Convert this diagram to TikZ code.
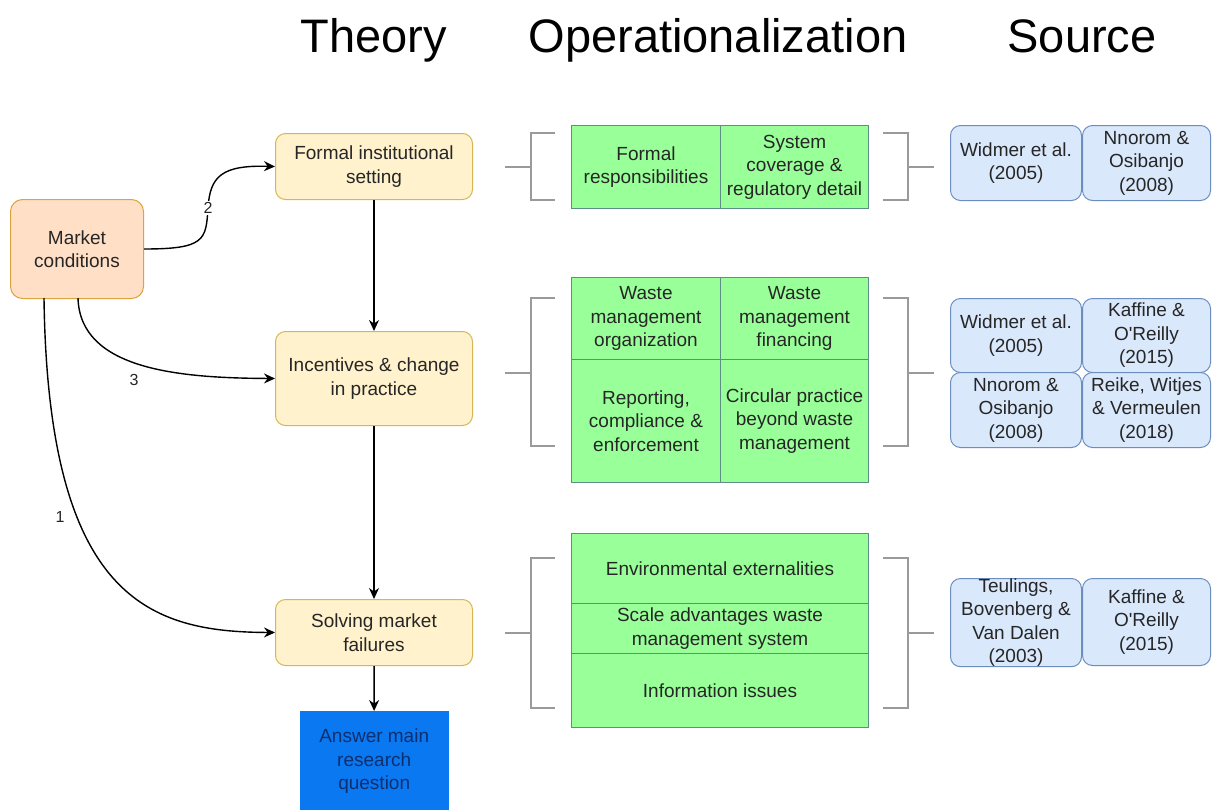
\documentclass[tikz,border=0pt]{standalone}
\usepackage{fontspec}
\setmainfont{Liberation Sans}
\usetikzlibrary{arrows.meta}
\definecolor{peachfill}{HTML}{FFDFC6}
\definecolor{peachline}{HTML}{D9A441}
\definecolor{sandfill}{HTML}{FFF2CC}
\definecolor{sandline}{HTML}{D6B656}
\definecolor{gfill}{HTML}{99FF99}
\definecolor{gline}{HTML}{5E8F86}
\definecolor{bfill}{HTML}{DAE8FC}
\definecolor{bline}{HTML}{6C8EBF}
\definecolor{qfill}{HTML}{0A78F0}
\definecolor{qtext}{HTML}{0D2F70}
\definecolor{brk}{HTML}{9A9A9A}
\definecolor{txt}{HTML}{262626}
\newcommand\boxfont{\fontsize{19}{23.5}\selectfont}
\newcommand\headfont{\fontsize{47}{52}\selectfont}
\newcommand\numfont{\fontsize{16}{18}\selectfont}
\begin{document}
\begin{tikzpicture}[x=1pt,y=-1pt,
  every node/.style={inner sep=0pt, align=center, anchor=north west, text=txt, font=\boxfont},
  theory/.style={draw=sandline, fill=sandfill, rounded corners=10pt, line width=1pt},
  market/.style={draw=peachline, fill=peachfill, rounded corners=12pt, line width=1pt},
  cell/.style={draw=gline, fill=gfill, line width=1pt, text=black!85},
  cite/.style={draw=bline, fill=bfill, rounded corners=10pt, line width=1pt},
  flow/.style={line width=1.4pt, -{Stealth[length=11pt,width=10pt]}},
  bracket/.style={draw=brk, line width=2.5pt},
  numlab/.style={font=\numfont, anchor=center, text=txt},
  heading/.style={anchor=base, font=\headfont, text=black}]
\useasboundingbox[fill=white] (0,0) rectangle (1213,809);

% column headings
\node[heading] (hT) at (374,52) {Theory};
\node[heading] (hO) at (718,52) {Operationalization};
\node[heading] (hS) at (1082,52) {Source};

% theory chain
\node[market, minimum width=133pt, minimum height=99pt] (m) at (10,199) {Market\\conditions};
\node[theory, minimum width=197pt, minimum height=66pt] (f) at (275,133) {Formal institutional\\setting};
\node[theory, minimum width=197pt, minimum height=94pt] (i) at (275,331) {Incentives \& change\\in practice};
\node[theory, minimum width=197pt, minimum height=66pt] (s) at (275,599) {Solving market\\failures};
\node[draw=qfill, fill=qfill, text=qtext, minimum width=148pt, minimum height=100pt] (q) at (300,711) {Answer main\\research\\question};

\draw[flow] (f) -- (i);
\draw[flow] (i) -- (s);
\draw[flow] (s) -- (q);

\coordinate (m2) at (78,298);
\coordinate (m1) at (44,298);
\draw[flow] (m.east) .. controls (205,249) and (206,240) .. (208,208)
  node[numlab, fill=white, inner sep=1pt] {2}
  .. controls (210,176) and (222,165) .. (f.west);
\draw[flow] (m2) .. controls (80,370) and (180,378) .. (i.west);
\node[numlab] (n3) at (134,380) {3};
\draw[flow] (m1) .. controls (48,600) and (150,632) .. (s.west);
\node[numlab] (n1) at (60,517) {1};

% operationalization tables
\node[cell, minimum width=149pt, minimum height=83pt] (a1) at (571,125) {Formal\\responsibilities};
\node[cell, minimum width=148pt, minimum height=83pt] (a2) at (720,125) {System\\coverage \&\\regulatory detail};

\node[cell, minimum width=149pt, minimum height=82pt] (b1) at (571,277) {Waste\\management\\organization};
\node[cell, minimum width=148pt, minimum height=82pt] (b2) at (720,277) {Waste\\management\\financing};
\node[cell, minimum width=149pt, minimum height=123pt] (b3) at (571,359) {Reporting,\\compliance \&\\enforcement};
\node[cell, minimum width=148pt, minimum height=123pt] (b4) at (720,359) {Circular practice\\beyond waste\\management};

\node[cell, minimum width=297pt, minimum height=70pt] (c1) at (571,533) {Environmental externalities};
\node[cell, minimum width=297pt, minimum height=50pt] (c2) at (571,603) {Scale advantages waste\\management system};
\node[cell, minimum width=297pt, minimum height=74pt] (c3) at (571,653) {Information issues};

% brackets around each table
\draw[bracket] (555,133) -- (531,133) -- (531,200) -- (555,200);
\draw[bracket] (505,167) -- (531,167);
\draw[bracket] (883,133) -- (908,133) -- (908,200) -- (883,200);
\draw[bracket] (908,167) -- (934,167);

\draw[bracket] (555,298) -- (531,298) -- (531,446) -- (555,446);
\draw[bracket] (505,373) -- (531,373);
\draw[bracket] (883,298) -- (908,298) -- (908,446) -- (883,446);
\draw[bracket] (908,373) -- (934,373);

\draw[bracket] (555,558) -- (531,558) -- (531,708) -- (555,708);
\draw[bracket] (505,633) -- (531,633);
\draw[bracket] (883,558) -- (908,558) -- (908,708) -- (883,708);
\draw[bracket] (908,633) -- (934,633);

% sources
\node[cite, minimum width=131pt, minimum height=75pt] (r1) at (950,125) {Widmer et al.\\(2005)};
\node[cite, minimum width=128pt, minimum height=75pt] (r2) at (1082,125) {Nnorom \&\\Osibanjo\\(2008)};

\node[cite, minimum width=131pt, minimum height=74pt] (r3) at (950,298) {Widmer et al.\\(2005)};
\node[cite, minimum width=128pt, minimum height=74pt] (r4) at (1082,298) {Kaffine \&\\O\textquotesingle Reilly\\(2015)};
\node[cite, minimum width=131pt, minimum height=75pt] (r5) at (950,372) {Nnorom \&\\Osibanjo\\(2008)};
\node[cite, minimum width=128pt, minimum height=75pt] (r6) at (1082,372) {Reike, Witjes\\\& Vermeulen\\(2018)};

\node[cite, minimum width=131pt, minimum height=87pt] (r7) at (950,578) {Teulings,\\Bovenberg \&\\Van Dalen\\(2003)};
\node[cite, minimum width=128pt, minimum height=87pt] (r8) at (1082,578) {Kaffine \&\\O\textquotesingle Reilly\\(2015)};
\end{tikzpicture}
\end{document}
